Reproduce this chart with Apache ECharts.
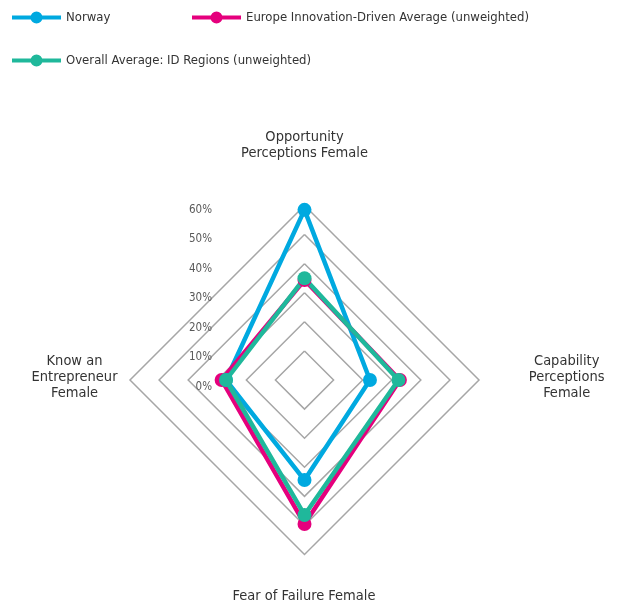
<!DOCTYPE html>
<html>
<head>
<meta charset="utf-8">
<script src="https://cdn.jsdelivr.net/npm/echarts@6/dist/echarts.min.js"></script>
<style>
html,body{margin:0;padding:0;background:#fff;}
#radar{width:617px;height:608px;}
</style>
</head>
<body>
<div id="radar"></div>
<script>
// indicators, in drawing order: top, left, bottom, right
var indicators = ['Opportunity\nPerceptions Female', 'Know an\nEntrepreneur\nFemale', 'Fear of Failure Female', 'Capability\nPerceptions\nFemale'];
var seriesNames = ['Norway', 'Europe Innovation-Driven Average (unweighted)', 'Overall Average: ID Regions (unweighted)'];
var norway = [58.5, 27, 34.4, 22.5];
var europeAvg = [34.4, 28.5, 49.5, 32.8];
var overallAvg = [35, 27, 46.4, 32.3];
var tickLabels = ['0%', '10%', '20%', '30%', '40%', '50%', '60%'];
var colors = ['#00a9e0', '#e5007d', '#1fb89b'];

(function(){

var font = '"DejaVu Sans Condensed", "DejaVu Sans", sans-serif';
var chart = echarts.init(document.getElementById('radar'));

// legend icon: line with a dot in the middle
var lineDot = 'path://M0,4H49V8H0Z M18.5,6a6,6 0 1,1 12,0a6,6 0 1,1 -12,0Z';

function legendAt(name, left, top) {
    return {
        data: [name],
        left: left,
        top: top,
        padding: 0,
        icon: lineDot,
        itemWidth: 49,
        itemHeight: 12,
        selectedMode: false,
        textStyle: { fontFamily: font, fontSize: 13, color: '#333' }
    };
}

// axis names sit at fixed spots around the diamond
var namePos = [[304.5, 145], [74.5, 377.5], [304, 596], [566.7, 377.5]];

var values = [norway, europeAvg, overallAvg];

var option = {
    animation: false,
    color: colors,
    legend: [
        legendAt(seriesNames[0], 12, 11),
        legendAt(seriesNames[1], 192, 11),
        legendAt(seriesNames[2], 12, 54)
    ],
    // only used to print the percent scale beside the radar
    grid: { left: 215, top: 210, width: 1, height: 176.7 },
    xAxis: { type: 'value', show: false },
    yAxis: {
        type: 'category',
        data: tickLabels,
        boundaryGap: false,
        axisLine: { show: false },
        axisTick: { show: false },
        splitLine: { show: false },
        axisLabel: { margin: 3, fontFamily: font, fontSize: 11.5, color: '#595959' }
    },
    graphic: indicators.map(function (n, i) {
        return {
            type: 'text',
            x: namePos[i][0],
            y: namePos[i][1],
            silent: true,
            style: {
                text: n,
                align: 'center',
                verticalAlign: 'middle',
                lineHeight: 16,
                fontFamily: font,
                fontSize: 14.5,
                fill: '#333'
            }
        };
    }),
    radar: {
        center: [304.5, 380],
        radius: 174.5,
        shape: 'polygon',
        splitNumber: 6,
        indicator: indicators.map(function (n) { return { name: n, min: 0, max: 60 }; }),
        axisName: { show: false },
        axisLine: { show: false },
        axisTick: { show: false },
        axisLabel: { show: false },
        splitArea: { show: false },
        splitLine: { lineStyle: { color: '#a6a6a6', width: 1.5 } }
    },
    series: values.map(function (v, i) {
        return {
            name: seriesNames[i],
            type: 'radar',
            symbol: 'circle',
            symbolSize: 14,
            lineStyle: { width: 4.5, color: colors[i] },
            itemStyle: { color: colors[i] },
            data: [{ name: seriesNames[i], value: v }]
        };
    })
};

chart.setOption(option);
})();
</script>
</body>
</html>
